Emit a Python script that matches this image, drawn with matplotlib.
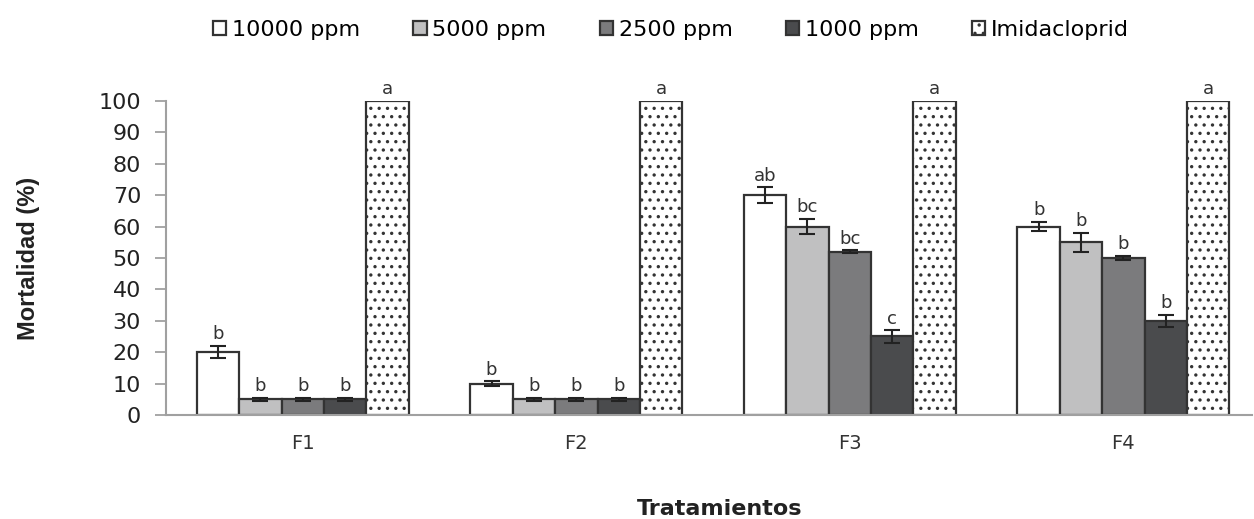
import numpy as np
import matplotlib
matplotlib.use("Agg")
import matplotlib.pyplot as plt

plt.rcParams['font.family'] = ['DejaVu Sans']
plt.rcParams['hatch.linewidth'] = 1.2

# datos
tratamientos = ['F1', 'F2', 'F3', 'F4']
series = ['10000 ppm', '5000 ppm', '2500 ppm', '1000 ppm', 'Imidacloprid']

m_10000 = [20, 10, 70, 60]
m_5000 = [5, 5, 60, 55]
m_2500 = [5, 5, 52, 50]
m_1000 = [5, 5, 25, 30]
m_imida = [100, 100, 100, 100]

e_10000 = [2, 0.7, 2.5, 1.5]
e_5000 = [0.5, 0.5, 2.5, 3]
e_2500 = [0.5, 0.5, 0.5, 0.7]
e_1000 = [0.5, 0.5, 2, 2]
e_imida = [0, 0, 0, 0]

l_10000 = ['b', 'b', 'ab', 'b']
l_5000 = ['b', 'b', 'bc', 'b']
l_2500 = ['b', 'b', 'bc', 'b']
l_1000 = ['b', 'b', 'c', 'b']
l_imida = ['a', 'a', 'a', 'a']

valores = [m_10000, m_5000, m_2500, m_1000, m_imida]
errores = [e_10000, e_5000, e_2500, e_1000, e_imida]
letras = [l_10000, l_5000, l_2500, l_1000, l_imida]
colores = ['white', '#c0c0c1', '#7b7b7d', '#4a4b4d', 'white']
hatches = [None, None, None, None, '..']

fig = plt.figure(figsize=(12.54, 5.19), dpi=100)
ax = fig.add_axes([0.1324, 0.2004, 0.866, 0.605])

x = np.arange(len(tratamientos))
w = 0.155
for i in range(5):
    pos = x + (i - 2) * w
    ax.bar(pos, valores[i], w, color=colores[i], edgecolor='#333333',
           linewidth=1.6, hatch=hatches[i], label=series[i], zorder=2)
    if i < 4:
        ax.errorbar(pos, valores[i], yerr=errores[i], fmt='none', ecolor='#222222',
                    elinewidth=1.5, capsize=6, capthick=1.5, zorder=3)
    for p, v, e, t in zip(pos, valores[i], errores[i], letras[i]):
        ax.text(p, v + e + 0.8, t, ha='center', va='bottom', fontsize=13, color='#333333')

ax.set_xlim(-0.5, 3.47)
ax.set_ylim(0, 100)
ax.set_yticks(range(0, 101, 10))
ax.set_xticks(x)
ax.set_xticklabels(tratamientos, fontsize=14, color='#333333')
ax.tick_params(axis='x', length=0, pad=14)
ax.tick_params(axis='y', labelsize=16, labelcolor='#222222', color='#a0a0a0', width=1.3, length=8, pad=10)
for s in ['top', 'right']:
    ax.spines[s].set_visible(False)
for s in ['left', 'bottom']:
    ax.spines[s].set_color('#a0a0a0')
    ax.spines[s].set_linewidth(1.5)

ax.set_ylabel('Mortalidad (%)', family='Liberation Sans', fontweight='bold', fontsize=17,
              color='#222222', labelpad=42)
fig.text(0.574, 0.0, 'Tratamientos', ha='center', va='bottom', fontsize=16, fontweight='bold', color='#222222')

fig.legend(loc='upper center', bbox_to_anchor=(0.535, 1.0), ncol=5, frameon=False,
           fontsize=16, handlelength=0.6, handleheight=0.6, handletextpad=0.25,
           columnspacing=2.4)

fig.savefig('out.png', dpi=100)
